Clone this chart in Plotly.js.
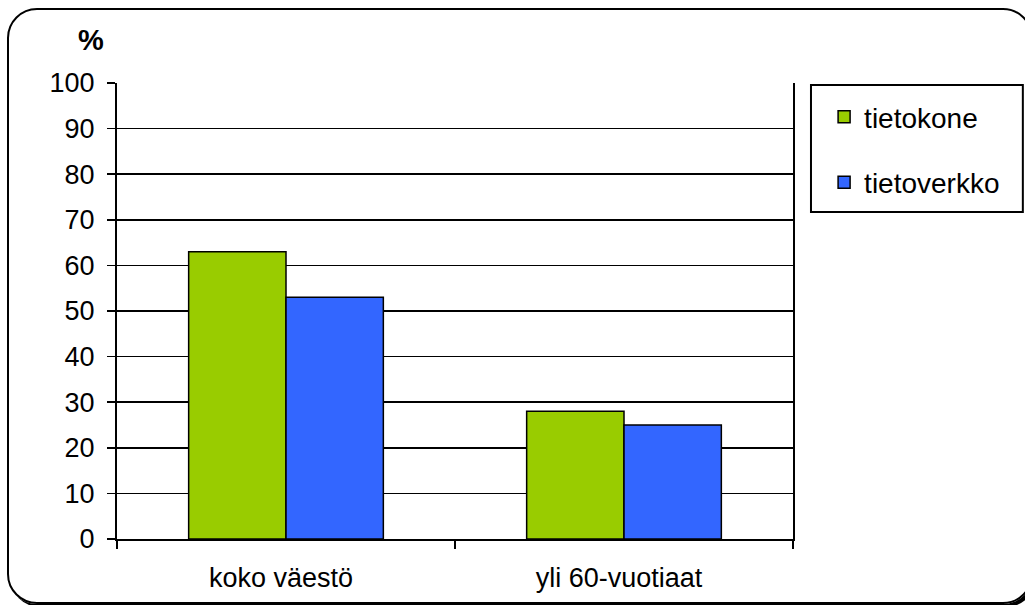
<!DOCTYPE html>
<html>
<head>
<meta charset="utf-8">
<script src="https://cdn.plot.ly/plotly-3.0.1.min.js"></script>
<style>
  html, body { margin: 0; padding: 0; background: #fff; }
  #wrap { position: relative; width: 1025px; height: 605px; overflow: hidden; }
  #chart { position: absolute; left: 0; top: 0; width: 1025px; height: 605px; }
  #frame { position: absolute; left: 7px; top: 8px; width: 1022px; height: 592px;
           border: 2px solid #000; border-radius: 30px; box-shadow: 3px 3px 0 #000;
           pointer-events: none; }
</style>
</head>
<body>
<div id="wrap">
  <div id="chart"></div>
  <div id="frame"></div>
</div>
<script>
const categories = ["koko väestö", "yli 60-vuotiaat"];
const seriesNames = ["tietokone", "tietoverkko"];
const tietokone = [63, 28];
const tietoverkko = [53, 25];
const yTicks = [0, 10, 20, 30, 40, 50, 60, 70, 80, 90, 100];

const FONT = "Liberation Sans, Arial, sans-serif";

const traces = [
  { type: "bar", name: seriesNames[0], x: categories, y: tietokone,
    legendgroup: "a",
    marker: { color: "#99CC00", line: { color: "#000", width: 1.5 } } },
  { type: "bar", name: seriesNames[1], x: categories, y: tietoverkko,
    legendgroup: "b",
    marker: { color: "#3366FF", line: { color: "#000", width: 1.5 } } }
];

const layout = {
  width: 1025, height: 605,
  margin: { l: 117, r: 232, t: 83, b: 66 },
  paper_bgcolor: "rgba(0,0,0,0)",
  plot_bgcolor: "#fff",
  font: { family: FONT, size: 27, color: "#000" },
  barmode: "group",
  bargap: 0.424,
  bargroupgap: 0,
  showlegend: true,
  legend: {
    x: 1.046, y: 0.98, xanchor: "left", yanchor: "top",
    traceorder: "grouped", tracegroupgap: 26,
    bgcolor: "rgba(0,0,0,0)", borderwidth: 0,
    font: { family: FONT, size: 28, color: "#000" }
  },
  xaxis: {
    type: "category",
    showline: true, linecolor: "#000", linewidth: 2,
    ticks: "outside", tickson: "boundaries", ticklen: 8, tickwidth: 1.5, tickcolor: "#000",
    ticklabelstandoff: 14, ticklabelshift: -5,
    showgrid: false, zeroline: false,
    tickfont: { family: FONT, size: 27, color: "#000" }
  },
  yaxis: {
    range: [0, 100],
    tickvals: yTicks,
    ticktext: yTicks.map(String),
    showline: true, linecolor: "#000", linewidth: 2, mirror: true,
    ticks: "outside", ticklen: 8, tickwidth: 1.5, tickcolor: "#000",
    ticklabelstandoff: 7,
    showgrid: true, gridcolor: "#000", gridwidth: 1.5,
    zeroline: false,
    tickfont: { family: FONT, size: 27, color: "#000" }
  },
  shapes: [
    { type: "rect", xref: "paper", yref: "paper",
      x0: 1.0266, x1: 1.340, y0: 0.717, y1: 0.9956,
      line: { color: "#000", width: 2 }, fillcolor: "rgba(0,0,0,0)" }
  ],
  annotations: [
    { text: "<b>%</b>", xref: "paper", yref: "paper",
      x: -0.0385, y: 1.094, xanchor: "center", yanchor: "middle",
      showarrow: false, font: { family: FONT, size: 29, color: "#000" } }
  ]
};

Plotly.newPlot("chart", traces, layout, { displayModeBar: false, staticPlot: true });
</script>
</body>
</html>
